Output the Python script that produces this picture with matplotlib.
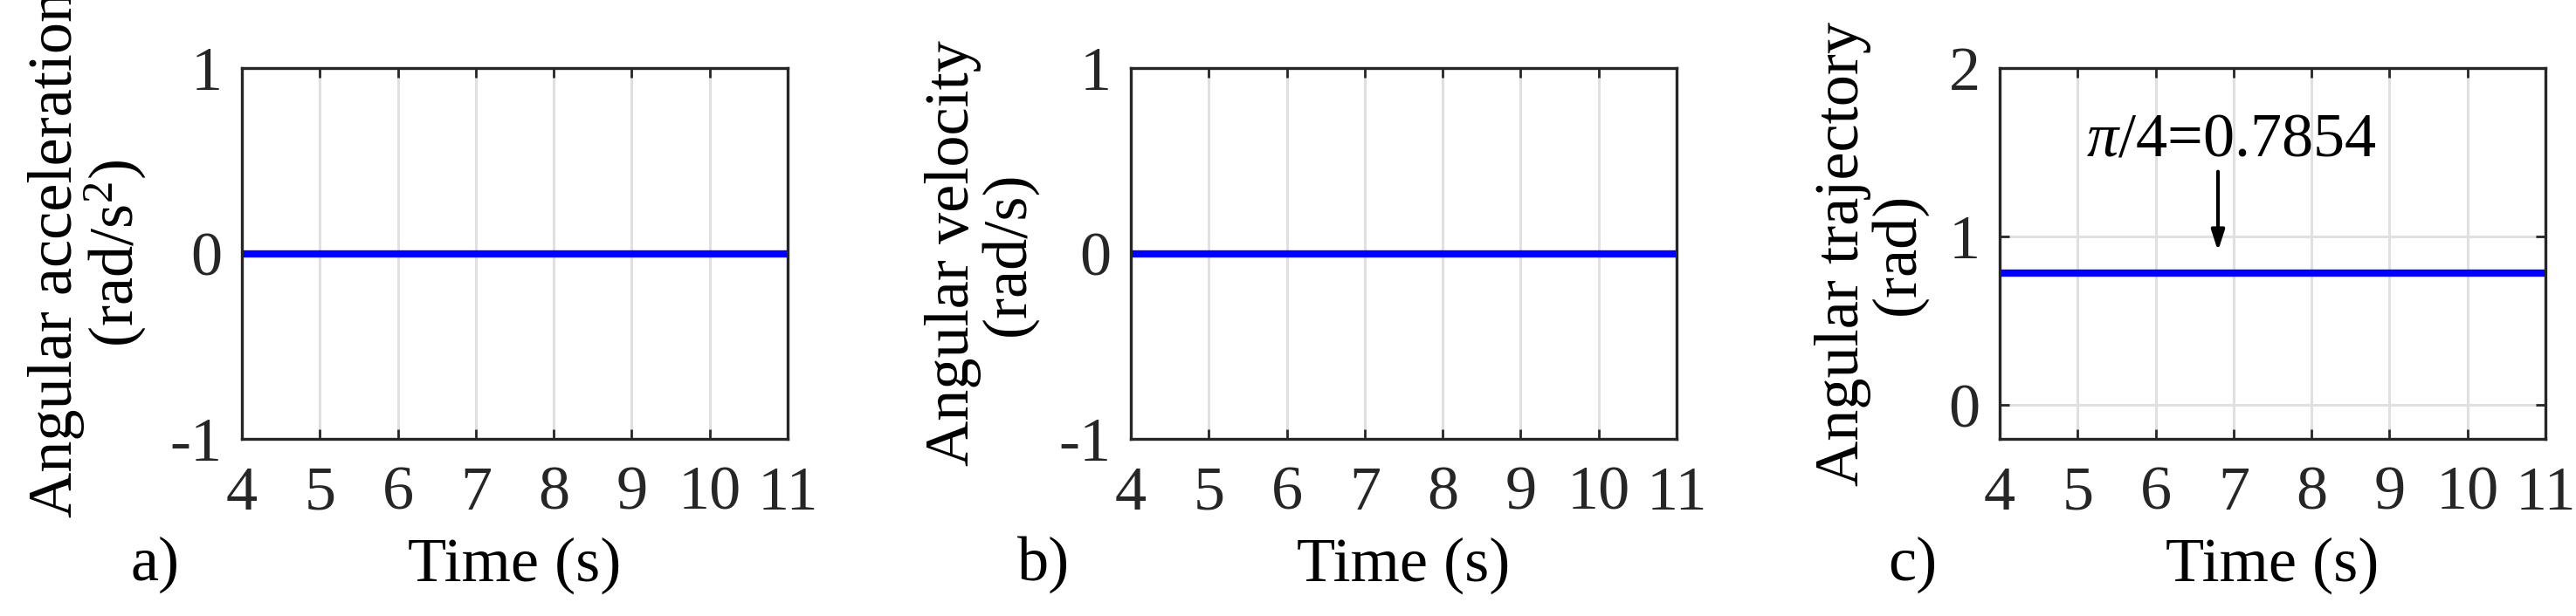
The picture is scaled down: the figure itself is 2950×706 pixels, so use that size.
import matplotlib

matplotlib.use("Agg")
import matplotlib.pyplot as plt

plt.rcParams["font.family"] = ["Liberation Serif", "DejaVu Serif"]
plt.rcParams["mathtext.fontset"] = "custom"
plt.rcParams["mathtext.rm"] = "Liberation Serif"
plt.rcParams["mathtext.it"] = "Liberation Serif:italic"
plt.rcParams["axes.unicode_minus"] = False

time = [4, 11]
accel = [0, 0]
veloc = [0, 0]
traj = [0.7854, 0.7854]
xticks = [4, 5, 6, 7, 8, 9, 10, 11]

panels = [
    (accel, "Angular acceleration\n(rad/s$^2$)", (-1, 1), [-1, 0, 1], "a)", 277),
    (veloc, "Angular velocity\n(rad/s)", (-1, 1), [-1, 0, 1], "b)", 1295),
    (traj, "Angular trajectory\n(rad)", (-0.2, 2), [0, 1, 2], "c)", 2290),
]

W, H = 2950, 706
FS = 52
fig = plt.figure(figsize=(W / 100, H / 100), dpi=100)
for data, ylab, ylim, yticks, tag, left in panels:
    ax = fig.add_axes([left / W, 1 - 503 / H, 625 / W, 425 / H])
    ax.plot(time, data, color="#0000ff", lw=6, solid_capstyle="butt")
    ax.set_xlim(4, 11)
    ax.set_ylim(*ylim)
    ax.set_xticks(xticks)
    ax.set_yticks(yticks)
    ax.grid(True, color="#e0e0e0", lw=2.2)
    ax.tick_params(direction="in", top=True, right=True, labelsize=FS, length=8, width=2, pad=22, colors="#262626")
    ax.tick_params(axis="y", pad=16)
    for s in ax.spines.values():
        s.set_linewidth(2.4)
        s.set_color("#262626")
    ax.set_ylabel(ylab, fontsize=FS, linespacing=0.95, labelpad=18, color="black")
    ax.set_xlabel("Time (s)", fontsize=FS, labelpad=12)
    ax.text(-0.16, -0.34, tag, transform=ax.transAxes, fontsize=FS, va="center", ha="center", clip_on=False)
    if tag == "c)":
        ax.annotate("", xy=(6.8, 0.9), xytext=(6.8, 1.4),
                    arrowprops=dict(arrowstyle="-|>,head_length=1.4,head_width=0.45", lw=3, color="black"))
        ax.text(6.97, 1.57, r"$\pi$/4=0.7854", fontsize=FS, ha="center", va="center")

fig.savefig("out.png", dpi=100)
